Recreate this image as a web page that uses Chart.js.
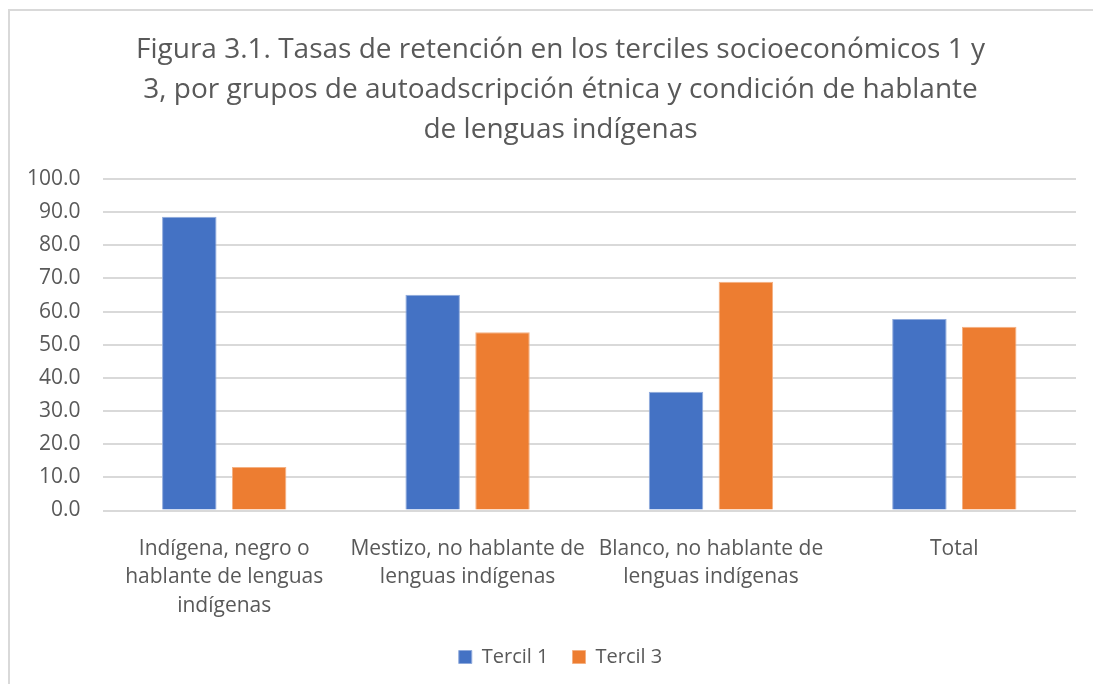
<!DOCTYPE html>
<html>
<head>
<meta charset="utf-8">
<script src="https://cdn.jsdelivr.net/npm/chart.js@4"></script>
<style>
  html, body { margin: 0; padding: 0; background: #fff; overflow: hidden; }
  #frame {
    position: absolute; left: 8px; top: 9px;
    width: 1200px; height: 800px;
    border-left: 2px solid #d9d9d9; border-top: 2px solid #d9d9d9;
  }
  #wrap { position: absolute; left: 0; top: 0; width: 1093px; height: 684px; }
</style>
</head>
<body>
<div id="frame"></div>
<div id="wrap"><canvas id="chart" width="1093" height="684"></canvas></div>
<script>
// Data
const categories = [
  ["Indígena, negro o", "hablante de lenguas", "indígenas"],
  ["Mestizo, no hablante de", "lenguas indígenas"],
  ["Blanco, no hablante de", "lenguas indígenas"],
  "Total"
];
const tercil1 = [88.6, 65.1, 35.8, 57.8];
const tercil3 = [13.1, 53.8, 69.0, 55.4];
const titleLines = [
  "Figura 3.1. Tasas de retención en los terciles socioeconómicos 1 y",
  "3, por grupos de autoadscripción étnica y condición de hablante",
  "de lenguas indígenas"
];

const FONT = "'Open Sans', Lato, sans-serif";
const GREY = "#595959";

// title and legend sit a bit right of the canvas centre in the original
const shiftBoxes = {
  id: "shiftBoxes",
  afterLayout(chart) {
    [chart.titleBlock, chart.legend].forEach(box => {
      if (box) {
        box.left += 20;
        box.right += 20;
      }
    });
  }
};

const ctx = document.getElementById("chart").getContext("2d");
new Chart(ctx, {
  type: "bar",
  data: {
    labels: categories,
    datasets: [
      {
        label: "Tercil 1",
        data: tercil1,
        backgroundColor: "#4472C4",
        borderColor: "#8faadc",
        borderWidth: 1,
        categoryPercentage: 0.574,
        barPercentage: 0.78
      },
      {
        label: "Tercil 3",
        data: tercil3,
        backgroundColor: "#ED7D31",
        borderColor: "#f4b183",
        borderWidth: 1,
        categoryPercentage: 0.574,
        barPercentage: 0.78
      }
    ]
  },
  options: {
    responsive: false,
    animation: false,
    layout: { padding: { left: 5, right: 17, top: 8, bottom: 7 } },
    plugins: {
      title: {
        display: true,
        text: titleLines,
        color: GREY,
        font: { family: FONT, size: 28, weight: "normal", lineHeight: 1.4286 },
        padding: { top: 22, bottom: 29 }
      },
      legend: {
        position: "bottom",
        labels: {
          color: GREY,
          font: { family: FONT, size: 20 },
          boxWidth: 13,
          boxHeight: 13,
          padding: 24
        }
      },
      tooltip: { enabled: false }
    },
    scales: {
      x: {
        grid: { display: false },
        border: { display: false },
        afterFit: scale => { scale.height -= 13; },
        ticks: {
          color: GREY,
          font: { family: FONT, size: 21, lineHeight: 1.357 },
          maxRotation: 0,
          autoSkip: false,
          padding: 16
        }
      },
      y: {
        min: 0,
        max: 100,
        border: { display: false },
        grid: { color: "#d9d9d9", lineWidth: 2, drawTicks: false },
        ticks: {
          stepSize: 10,
          color: GREY,
          font: { family: FONT, size: 21 },
          padding: 22,
          callback: v => v.toFixed(1)
        }
      }
    }
  },
  plugins: [shiftBoxes]
});
</script>
</body>
</html>
